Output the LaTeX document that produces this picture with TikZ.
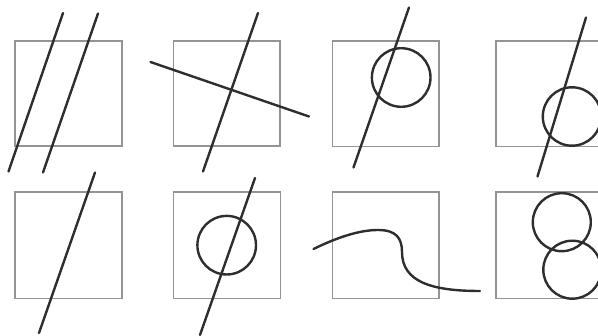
\documentclass[tikz,border=0pt]{standalone}
\begin{document}
\begin{tikzpicture}[x=1pt,y=-1pt,
  frame/.style={draw=black!42, line width=1.4pt},
  stroke/.style={draw=black!82, line width=2.4pt, line cap=round},
  ring/.style={draw=black!82, line width=2.4pt}]
\useasboundingbox (0,0) rectangle (598,336);
\clip (0,0) rectangle (598,336);
% row 1
\draw[frame] (15,41) rectangle (122,146);
\draw[stroke] (63,13) -- (8.5,171.5);
\draw[stroke] (98,13.5) -- (43,172.5);

\draw[frame] (173.5,41) rectangle (280,146);
\draw[stroke] (258,13) -- (203,171.5);
\draw[stroke] (150.5,62) -- (309,116.5);

\draw[frame] (332.5,41) rectangle (439,146.5);
\draw[ring] (401.2,77.5) circle (29.3);
\draw[stroke] (409,7.5) -- (353.5,167.5);

\draw[frame] (496,41) rectangle (603,146.5);
\draw[ring] (572,116.5) circle (29.2);
\draw[stroke] (586,17.5) -- (537.5,176.5);

% row 2
\draw[frame] (15,192) rectangle (122,298.5);
\draw[stroke] (95,172.5) -- (39,333);

\draw[frame] (173.5,192) rectangle (280.5,298.5);
\draw[ring] (226.7,245.2) circle (29.3);
\draw[stroke] (255,178) -- (200,335);

\draw[frame] (332.5,192) rectangle (439,298.5);
\draw[stroke] (313.5,249) .. controls (338,237) and (360,230) .. (378,230)
  .. controls (396,230) and (402,238) .. (402,252)
  .. controls (402,282) and (432,291) .. (480,291);

\draw[frame] (496,192) rectangle (603,298.5);
\draw[ring] (561.8,222.2) circle (29);
\draw[ring] (572.3,269.7) circle (29);
\end{tikzpicture}
\end{document}
